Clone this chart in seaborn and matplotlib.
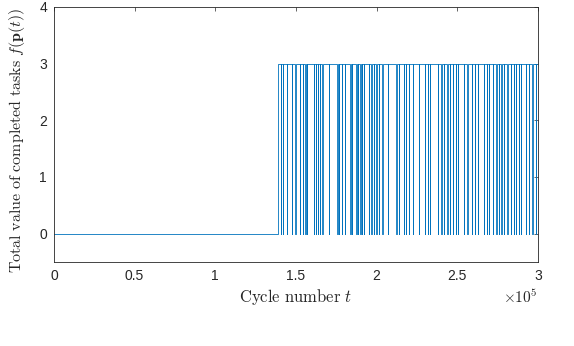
import numpy as np
import pandas as pd
import matplotlib
matplotlib.use('Agg')
import matplotlib.pyplot as plt
import seaborn as sns

# cycle (x1000) at which value first jumps from 0 to 3
rise_time = 139.0
# short drops back to 0 (start, end), in thousands of cycles
drop_start = [140.7, 141.9, 144.4, 147.5, 149.4, 152.5, 154.3, 155.6, 156.8,
              161.1, 162.4, 163.6, 164.9, 166.1, 170.4, 175.4, 176.6, 178.5,
              180.4, 183.5, 184.7, 187.2, 188.4, 189.7, 190.9, 192.1, 195.2,
              196.5, 198.3, 199.6, 201.4, 203.3, 207.0, 212.0, 213.8, 216.9,
              218.2, 220.0, 222.5, 226.2, 229.9, 231.8, 233.0, 238.0, 239.9,
              241.7, 243.6, 245.4, 247.3, 249.2, 250.4, 254.1, 256.0, 259.1,
              260.9, 262.8, 266.5, 268.4, 269.6, 272.1, 274.0, 275.8, 277.1,
              278.9, 280.8, 283.3, 285.1, 286.3, 288.2, 289.4, 292.5, 294.4,
              296.3, 298.7]
drop_end = [141.0, 142.3, 144.7, 147.8, 149.8, 152.8, 154.7, 156.0, 157.1,
            161.5, 162.7, 164.0, 165.2, 166.5, 170.7, 175.8, 176.9, 178.8,
            180.7, 183.9, 185.0, 187.6, 188.7, 190.1, 191.2, 192.5, 195.5,
            196.9, 198.6, 200.0, 201.7, 203.7, 207.3, 212.4, 214.1, 217.3,
            218.5, 220.4, 222.8, 226.5, 230.3, 232.1, 233.4, 238.3, 240.3,
            242.0, 244.0, 245.7, 247.7, 249.5, 250.8, 254.4, 256.4, 259.4,
            261.3, 263.1, 266.9, 268.7, 270.0, 272.4, 274.4, 276.1, 277.5,
            279.2, 281.2, 283.6, 285.5, 286.6, 288.6, 289.7, 292.9, 294.7,
            296.7, 299.0]
t_end = 300.0

times = [0.0, rise_time]
vals = [0, 3]
for s, e in zip(drop_start, drop_end):
    times += [s, e]
    vals += [0, 3]
times.append(t_end)
vals.append(3)
df = pd.DataFrame({'t': np.array(times) * 1000, 'f': vals})

sns.set_style('white')
plt.rcParams['font.family'] = ['Liberation Sans', 'DejaVu Sans']
plt.rcParams['mathtext.fontset'] = 'cm'

fig = plt.figure(figsize=(5.74, 3.46), dpi=100)
ax = fig.add_axes([0.094, 0.243, 0.843, 0.737])
sns.lineplot(data=df, x='t', y='f', ax=ax, estimator=None, sort=False,
             drawstyle='steps-post', color='#0072BD', linewidth=0.6)

ax.set_xlim(0, 3e5)
ax.set_ylim(-0.5, 4)
ax.set_xticks([0, 0.5e5, 1e5, 1.5e5, 2e5, 2.5e5, 3e5])
ax.set_xticklabels(['0', '0.5', '1', '1.5', '2', '2.5', '3'])
ax.set_yticks([0, 1, 2, 3, 4])
ax.tick_params(direction='in', length=3, width=0.5, colors='#262626',
               labelsize=10, top=True, right=True, pad=5)
for sp in ax.spines.values():
    sp.set_color('#262626')
    sp.set_linewidth(0.6)

ax.set_xlabel(r'$\mathrm{Cycle\ number}\ t$', fontsize=12, color='#262626', labelpad=3)
ax.set_ylabel(r'$\mathrm{Total\ value\ of\ completed\ tasks}\ f(\mathbf{p}(t))$',
              fontsize=11.5, color='#262626')
ax.yaxis.set_label_coords(-0.056, 0.475)
ax.text(1.0, -0.105, r'$\times10^{5}$', transform=ax.transAxes, ha='right',
        va='top', fontsize=11, color='#262626')

fig.savefig('out.png', dpi=100)
